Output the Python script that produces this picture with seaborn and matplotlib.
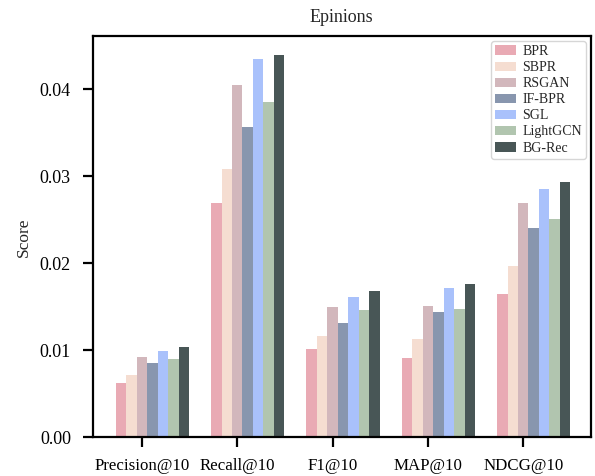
import numpy as np
import pandas as pd
import matplotlib
matplotlib.use("Agg")
import matplotlib.pyplot as plt
import seaborn as sns

metrics = ["Precision@10", "Recall@10", "F1@10", "MAP@10", "NDCG@10"]
models = ["BPR", "SBPR", "RSGAN", "IF-BPR", "SGL", "LightGCN", "BG-Rec"]

bpr = [0.0063, 0.0269, 0.0102, 0.0091, 0.0165]
sbpr = [0.0072, 0.0308, 0.0117, 0.0113, 0.0197]
rsgan = [0.0092, 0.0405, 0.0150, 0.0151, 0.0269]
if_bpr = [0.0085, 0.0357, 0.0131, 0.0144, 0.0241]
sgl = [0.0099, 0.0435, 0.0161, 0.0172, 0.0286]
lightgcn = [0.0090, 0.0385, 0.0146, 0.0147, 0.0251]
bg_rec = [0.0104, 0.0439, 0.0168, 0.0176, 0.0294]

colors = ["#E9AAB4", "#F5DDD1", "#D2B7BC", "#8896AE", "#A9C1FB", "#B1C5AF", "#485656"]

scores = [bpr, sbpr, rsgan, if_bpr, sgl, lightgcn, bg_rec]
df = pd.DataFrame(
    [(m, metric, v) for m, vals in zip(models, scores) for metric, v in zip(metrics, vals)],
    columns=["model", "metric", "score"],
)

sns.set_style("ticks")
plt.rcParams["font.family"] = ["Liberation Serif", "DejaVu Serif"]

fig = plt.figure(figsize=(5.95, 4.76), dpi=100)
ax = fig.add_axes([0.1555, 0.081, 0.838, 0.843])

group_w = 0.77
sns.barplot(data=df, x="metric", y="score", hue="model", order=metrics, hue_order=models,
            palette=colors, width=group_w, saturation=1, linewidth=0, ax=ax)

bar_w = group_w / len(models)
ax.set_xticks(np.arange(len(metrics)) - bar_w)
ax.set_xticklabels(metrics, fontsize=12.2)
ax.set_xlim(-0.628, 4.602)
ax.set_ylim(0, 0.0461)
ax.set_yticks([0.0, 0.01, 0.02, 0.03, 0.04])
ax.set_yticklabels(["0.00", "0.01", "0.02", "0.03", "0.04"], fontsize=13)
ax.set_xlabel("")
ax.set_ylabel("Score", fontsize=12.5, labelpad=6)
ax.set_title("Epinions", fontsize=13, pad=10)

for s in ax.spines.values():
    s.set_linewidth(1.6)
    s.set_color("black")
ax.tick_params(axis="both", direction="out", length=7.5, width=1.6, colors="black")
ax.tick_params(axis="y", pad=8)
ax.tick_params(axis="x", pad=7)

ax.legend(loc="upper right", fontsize=10, frameon=True, fancybox=True,
          edgecolor="#cccccc", labelspacing=0.22, handlelength=1.5, handletextpad=0.45,
          borderpad=0.3, borderaxespad=0.35)

fig.savefig("out.png", dpi=100)
